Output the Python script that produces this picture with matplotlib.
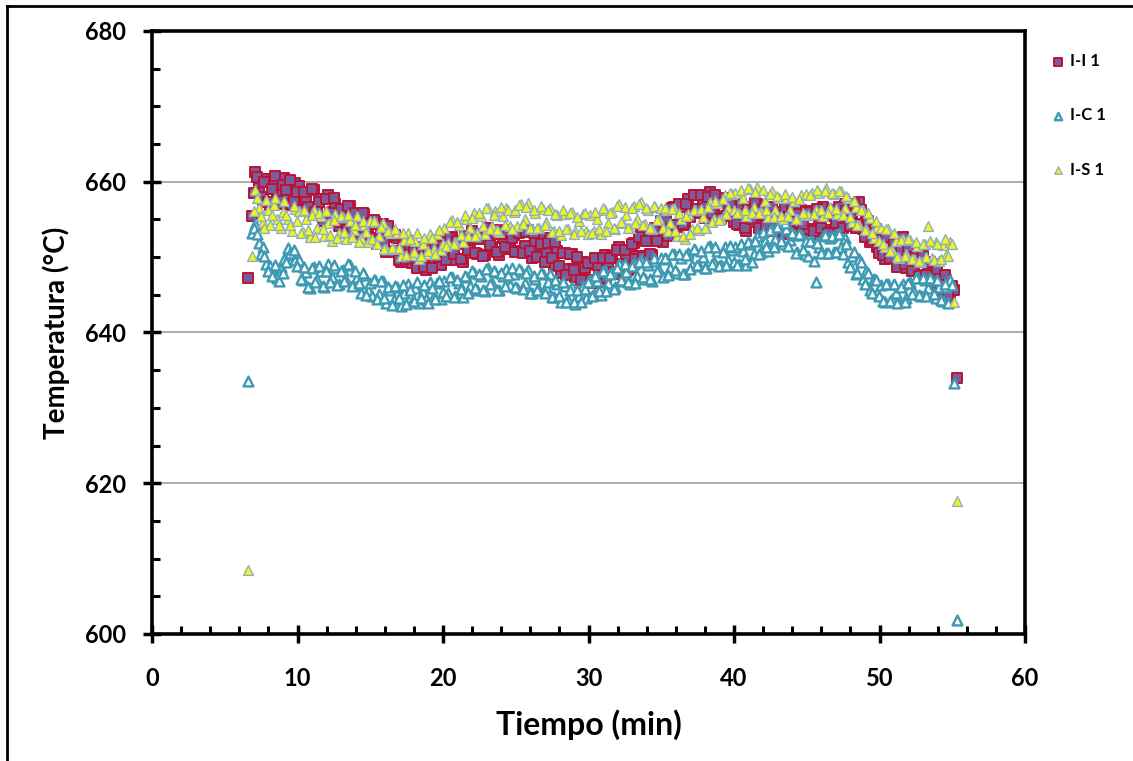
import numpy as np
import matplotlib
matplotlib.use("Agg")
import matplotlib.pyplot as plt
from matplotlib.ticker import MultipleLocator
from matplotlib.lines import Line2D

plt.rcParams['font.family'] = ['Lato', 'DejaVu Sans']

# main readings: first at 6.6 min, one every 0.25 min
t_start = 6.6
t_step = 0.25
# intermediate readings: first at 6.975 min, one every 0.25 min
t_mid_start = 6.975

ii_1 = [647.2, 655.5, 661.3, 659.2, 657.6, 660.3, 656.9, 660.4, 658.2, 657.1, 660.5, 658.4, 656.9, 659.8,
        659.4, 656.6, 657.9, 655.6, 658.9, 656.5, 657.7, 655.1, 658.3, 656.0, 657.1, 654.1, 656.2, 654.5, 656.8, 653.7, 655.0, 652.7, 655.7, 653.5,
        652.4, 654.7, 652.5, 654.4, 650.7, 652.7, 650.8, 652.6, 649.3, 651.2, 652.2, 649.2, 651.1, 648.5, 649.8, 648.3, 651.2, 649.2, 651.4, 649.0,
        652.0, 650.1, 652.7, 649.6, 651.7, 649.4, 652.4, 651.2, 653.1, 650.4, 652.6, 650.3, 653.9, 651.4, 653.2, 650.3, 652.6, 653.6, 651.1, 652.9,
        650.8, 653.4, 651.5, 653.6, 649.9, 652.0, 650.1, 652.5, 650.6, 652.5, 648.9, 650.8, 647.9, 650.6, 648.4, 650.4, 647.3, 648.5, 649.4, 646.9,
        649.2, 646.9, 648.9, 646.7, 650.3, 648.5, 650.2, 647.8, 651.4, 648.8, 650.2, 648.5, 651.9, 650.2, 652.9, 650.1, 652.5, 650.3, 653.8, 652.7,
        652.0, 655.1, 654.2, 656.7, 654.0, 656.6, 654.2, 657.7, 656.0, 658.3, 655.8, 657.2, 655.4, 658.7, 656.0, 657.6, 655.1, 657.8, 655.6, 657.0,
        657.2, 654.2, 656.0, 653.5, 656.6, 654.6, 657.1, 654.2, 655.5, 653.5, 656.5, 654.5, 656.0, 653.1, 656.6, 654.6, 655.6, 653.3, 656.2, 653.5,
        653.7, 656.1, 653.1, 655.1, 656.6, 653.6, 655.6, 653.3, 656.3, 654.8, 657.1, 654.2, 655.9, 653.8, 657.3, 653.7, 655.1, 652.0, 653.6, 651.4,
        652.6, 649.8, 652.5, 649.9, 650.7, 648.8, 652.7, 648.6, 650.7, 648.7, 650.7, 647.2, 649.3, 647.8, 649.1, 646.0, 647.6, 645.1, 646.9, 645.0,
        645.6, 634.0]

ii_1_mid = [658.5, 660.6, 658.0, 659.9, 657.3, 659.1, 660.7, 657.5, 659.6, 658.9, 660.2, 657.4, 658.6,
            656.3, 658.6, 656.7, 659.0, 656.0, 657.3, 654.8, 657.7, 655.9, 657.9, 654.6, 656.4, 654.9, 656.8, 653.4, 655.9, 654.5, 655.9, 653.1, 654.4,
            654.9, 651.7, 653.6, 651.9, 654.1, 650.7, 652.9, 649.6, 651.5, 649.7, 651.6, 650.7, 648.6, 651.4, 648.7, 650.6, 648.6, 651.7, 650.0, 651.5,
            649.6, 652.6, 650.4, 652.2, 649.7, 652.8, 651.0, 653.4, 650.5, 652.4, 650.2, 653.3, 651.6, 653.6, 650.7, 653.0, 651.3, 653.3, 652.5, 650.7,
            653.2, 650.5, 653.3, 650.8, 653.2, 650.0, 651.7, 649.4, 651.9, 649.9, 652.0, 648.8, 650.5, 647.6, 650.4, 648.3, 650.0, 646.9, 648.5, 649.2,
            646.6, 649.9, 647.6, 649.9, 647.2, 649.9, 648.0, 651.0, 649.1, 650.9, 648.3, 651.8, 649.8, 652.7, 650.0, 652.2, 650.4, 653.6, 652.1, 654.8,
            655.0, 652.8, 656.5, 654.3, 657.0, 654.4, 657.0, 655.3, 658.2, 656.4, 658.3, 655.2, 658.0, 655.8, 658.3, 655.1, 657.2, 655.5, 657.2, 654.7,
            654.4, 657.0, 653.8, 656.2, 655.0, 657.2, 653.9, 656.3, 654.3, 656.7, 653.5, 655.6, 653.9, 656.6, 654.2, 656.1, 653.0, 655.7, 654.4, 656.0,
            656.0, 653.4, 656.4, 653.8, 655.4, 653.2, 656.3, 654.5, 656.7, 653.8, 656.1, 654.1, 657.1, 654.4, 656.3, 652.7, 654.8, 652.3, 653.7, 650.6,
            650.3, 652.7, 649.9, 651.8, 648.7, 650.9, 649.1, 651.3, 648.1, 649.8, 647.5, 650.2, 647.6, 649.3, 646.1, 648.4, 646.3, 647.6, 644.9, 646.2]

ic_1 = [633.6, 653.2, 654.4, 651.9, 651.3, 649.1, 648.8, 647.6, 647.2, 648.7, 649.8, 651.2, 650.3, 649.6,
        649.6, 647.0, 648.0, 645.9, 648.7, 646.9, 648.1, 646.1, 649.1, 647.4, 648.6, 646.4, 648.3, 646.9, 648.9, 646.3, 647.3, 645.2, 647.6, 645.6,
        644.9, 646.9, 645.1, 646.8, 643.9, 645.7, 644.3, 646.0, 643.5, 645.3, 646.4, 644.1, 645.9, 643.9, 645.4, 644.5, 646.7, 644.9, 646.6, 644.4,
        646.8, 645.2, 647.4, 644.8, 646.6, 644.7, 647.3, 646.2, 647.9, 645.6, 647.5, 645.5, 648.6, 646.5, 648.0, 645.6, 647.5, 648.4, 646.3, 647.8,
        645.9, 648.1, 646.5, 648.3, 645.3, 647.1, 645.6, 647.7, 646.1, 647.7, 644.7, 646.4, 644.0, 646.2, 644.3, 646.0, 643.8, 644.9, 646.2, 644.6,
        646.9, 645.1, 646.8, 645.0, 648.1, 646.6, 648.0, 646.0, 649.1, 646.8, 648.0, 646.4, 649.1, 647.5, 649.6, 647.1, 648.9, 646.8, 649.5, 648.3,
        647.4, 649.7, 648.6, 650.4, 647.9, 649.9, 647.7, 650.5, 649.0, 650.9, 648.8, 650.0, 648.5, 651.5, 649.3, 650.8, 648.9, 651.4, 649.6, 651.0,
        651.4, 649.1, 650.8, 649.0, 651.8, 650.4, 652.8, 650.7, 652.2, 650.8, 653.7, 652.4, 654.5, 651.8, 653.7, 652.3, 652.9, 650.7, 652.9, 650.4,
        650.2, 652.1, 646.7, 651.4, 652.8, 650.6, 652.5, 650.7, 653.1, 651.3, 652.6, 649.4, 650.1, 647.7, 649.7, 647.1, 648.2, 645.6, 647.1, 645.3,
        646.3, 644.1, 646.4, 644.4, 645.3, 644.1, 646.4, 644.6, 646.7, 645.4, 647.4, 644.9, 647.0, 645.9, 647.0, 644.6, 646.1, 644.2, 646.1, 647.0,
        633.3, 601.9]

ic_1_mid = [653.8, 653.1, 650.4, 650.2, 648.2, 647.5, 648.9, 646.8, 647.9, 649.4, 650.6, 650.9, 648.8,
            647.1, 648.7, 646.1, 648.6, 646.7, 648.8, 646.2, 648.2, 646.7, 649.0, 646.3, 648.2, 646.8, 649.1, 646.2, 648.1, 646.5, 647.9, 645.0, 646.6,
            646.9, 644.4, 646.8, 644.6, 646.1, 643.6, 646.2, 644.6, 646.3, 643.8, 645.7, 644.2, 646.7, 644.6, 646.3, 643.9, 645.9, 644.5, 646.8, 645.4,
            644.9, 647.3, 644.7, 647.0, 645.8, 647.5, 645.3, 648.1, 645.9, 647.7, 645.6, 648.4, 646.4, 648.1, 645.6, 647.9, 646.2, 647.6, 648.5, 646.0,
            648.4, 645.8, 647.9, 645.3, 647.5, 645.7, 647.9, 645.3, 646.7, 644.7, 647.0, 644.9, 646.7, 644.1, 645.7, 644.1, 645.6, 644.0, 645.8, 646.7,
            644.8, 647.5, 645.5, 648.1, 645.5, 647.7, 645.8, 648.5, 647.0, 649.1, 646.7, 648.8, 646.5, 649.3, 647.4, 649.3, 647.1, 649.9, 648.1, 649.9,
            649.9, 647.6, 650.4, 648.3, 650.4, 647.8, 650.3, 648.4, 651.1, 649.0, 650.8, 648.5, 651.3, 649.1, 651.4, 648.8, 650.7, 649.0, 651.5, 649.4,
            648.9, 651.7, 649.7, 652.0, 649.4, 652.1, 650.4, 653.3, 651.4, 653.6, 651.3, 654.0, 652.1, 654.5, 651.5, 653.2, 650.6, 653.1, 650.9, 652.2,
            652.1, 649.5, 651.9, 650.5, 652.9, 650.6, 652.8, 650.7, 653.1, 650.4, 651.8, 648.7, 650.7, 647.9, 649.3, 646.4, 647.9, 645.3, 647.0, 644.9,
            644.2, 646.4, 644.2, 646.4, 643.9, 646.0, 644.0, 646.5, 645.1, 647.2, 645.0, 647.2, 644.9, 647.2, 645.1, 647.0, 644.3, 646.4, 643.9, 646.3]

is_1 = [608.5, 650.2, 658.9, 656.5, 654.6, 657.6, 654.2, 656.9, 655.1, 653.9, 657.4, 655.0, 653.5, 656.4,
        656.1, 653.3, 655.1, 652.7, 656.3, 653.8, 655.4, 652.8, 654.5, 652.2, 655.7, 653.2, 655.3, 652.4, 654.8, 653.6, 655.5, 652.6, 654.2, 652.0,
        652.4, 654.6, 652.8, 654.5, 651.1, 653.2, 651.1, 653.2, 650.2, 652.3, 653.2, 650.3, 652.2, 649.8, 651.7, 650.4, 653.0, 651.1, 653.1, 650.9,
        653.8, 651.9, 654.9, 652.0, 654.2, 652.0, 655.1, 653.8, 655.9, 653.2, 655.4, 653.1, 656.5, 654.1, 656.1, 653.3, 655.5, 656.5, 654.1, 656.0,
        654.1, 657.0, 655.0, 657.2, 653.7, 655.9, 653.9, 656.4, 654.6, 656.5, 653.4, 655.6, 652.9, 655.7, 653.7, 656.0, 653.4, 654.8, 655.7, 653.5,
        655.6, 653.4, 655.1, 653.1, 656.3, 654.5, 656.0, 653.7, 657.0, 654.5, 655.6, 653.9, 656.8, 655.0, 657.3, 654.4, 656.2, 653.7, 656.6, 655.1,
        653.9, 656.2, 654.5, 656.5, 652.8, 655.0, 652.4, 655.7, 653.7, 656.2, 653.6, 655.3, 653.8, 657.3, 655.0, 657.2, 655.1, 658.3, 656.5, 658.4,
        658.5, 655.9, 657.9, 655.5, 659.0, 656.6, 659.3, 656.0, 657.5, 655.3, 658.8, 656.3, 657.8, 655.0, 657.9, 656.2, 657.4, 655.0, 658.3, 655.6,
        655.6, 658.5, 656.3, 658.5, 655.4, 659.2, 656.7, 658.4, 655.7, 658.8, 656.5, 657.8, 654.6, 656.6, 654.3, 656.3, 653.7, 655.2, 652.5, 654.0,
        653.9, 651.4, 653.7, 651.0, 652.1, 649.9, 652.4, 650.4, 652.3, 649.7, 651.5, 649.3, 651.8, 654.1, 649.9, 652.0, 649.5, 651.6, 650.3, 652.0,
        644.1, 617.7]

is_1_mid = [656.1, 657.8, 655.5, 653.9, 656.3, 655.6, 657.9, 654.3, 656.0, 655.6, 654.2, 656.8, 654.8,
            653.2, 656.3, 653.6, 655.6, 652.7, 655.8, 653.7, 656.1, 652.9, 654.9, 652.5, 655.4, 653.3, 655.6, 652.7, 654.3, 652.0, 654.8, 653.3, 654.8,
            654.8, 651.8, 654.0, 651.1, 653.4, 651.2, 653.7, 651.2, 653.2, 650.3, 652.4, 650.7, 653.2, 650.2, 652.5, 650.8, 652.5, 650.4, 653.6, 651.7,
            651.5, 654.6, 651.8, 654.6, 652.9, 655.6, 652.8, 655.2, 652.8, 655.9, 654.1, 656.5, 653.7, 655.6, 653.6, 656.6, 654.2, 656.3, 653.7, 656.3,
            656.9, 654.4, 656.6, 653.8, 656.2, 653.8, 656.8, 654.3, 656.2, 653.3, 655.7, 653.5, 656.2, 653.7, 655.8, 653.1, 655.3, 653.4, 655.9, 653.1,
            653.2, 656.0, 653.7, 656.5, 653.4, 655.8, 653.9, 656.8, 654.6, 656.6, 653.9, 656.5, 654.5, 657.1, 654.2, 656.5, 653.9, 656.8, 654.9, 656.5,
            656.5, 653.5, 656.4, 653.4, 655.9, 652.8, 655.4, 653.1, 656.2, 653.9, 656.4, 653.8, 656.7, 654.7, 657.4, 654.9, 657.7, 655.7, 658.5, 656.2,
            655.9, 658.9, 656.2, 659.2, 655.9, 658.6, 655.9, 658.9, 656.2, 658.4, 655.3, 658.1, 655.5, 658.4, 655.5, 658.0, 655.1, 657.7, 655.9, 658.4,
            658.3, 655.7, 658.9, 656.2, 658.8, 655.8, 658.5, 656.4, 658.8, 655.6, 658.1, 655.3, 657.5, 654.3, 656.3, 653.6, 655.8, 653.2, 654.8, 652.1,
            651.8, 653.7, 650.8, 653.2, 650.0, 652.3, 650.2, 652.4, 649.8, 652.0, 649.5, 651.8, 650.0, 652.2, 649.6, 651.7, 649.8, 652.4, 650.1, 651.7]

series_labels = ['I-I 1', 'I-C 1', 'I-S 1']
x_ticks = [0, 10, 20, 30, 40, 50, 60]
y_ticks = [600, 620, 640, 660, 680]


def readings(main, mid):
    t_main = t_start + t_step * np.arange(len(main))
    t_mid = t_mid_start + t_step * np.arange(len(mid))
    return np.concatenate([t_main, t_mid]), np.concatenate([main, mid])


fig = plt.figure(figsize=(11.33, 7.61), dpi=100)
ax = fig.add_axes([0.1342, 0.1669, 0.7705, 0.7924])

x, y = readings(ii_1, ii_1_mid)
ax.scatter(x, y, marker='s', s=46, facecolor='#7B5C98', edgecolor='#BC1236',
           linewidths=1.4, label=series_labels[0], zorder=3)
x, y = readings(ic_1, ic_1_mid)
ax.scatter(x, y, marker='^', s=50, facecolor='white', edgecolor='#3C9AB2',
           linewidths=1.7, label=series_labels[1], zorder=4)
x, y = readings(is_1, is_1_mid)
ax.scatter(x, y, marker='^', s=50, facecolor='#F0F51A', edgecolor='#8EAFC0',
           linewidths=1.0, label=series_labels[2], zorder=5)

ax.set_xlim(0, 60)
ax.set_ylim(600, 680)
ax.set_xticks(x_ticks)
ax.set_yticks(y_ticks)
ax.xaxis.set_minor_locator(MultipleLocator(2))
ax.yaxis.set_minor_locator(MultipleLocator(5))
ax.tick_params(which='major', direction='inout', length=13, width=2.5, labelsize=17)
ax.tick_params(axis='x', which='major', pad=17)
ax.tick_params(axis='y', which='major', pad=12)
ax.tick_params(which='minor', direction='in', length=6, width=2.2)
for lab in ax.get_xticklabels() + ax.get_yticklabels():
    lab.set_fontweight('bold')

for sp in ax.spines.values():
    sp.set_linewidth(2.6)
    sp.set_color('black')

for yv in y_ticks[1:-1]:
    ax.axhline(yv, color='#A6A6A6', lw=1.3, zorder=1)

ax.set_xlabel('Tiempo (min)', fontsize=23, fontweight='bold', labelpad=14)
ax.set_ylabel('Temperatura (°C)', fontsize=20, fontweight='bold', labelpad=11)

leg = fig.legend(loc='upper left', bbox_to_anchor=(0.919, 0.939), frameon=False,
                 fontsize=12, labelspacing=2.3, handletextpad=0.1, handlelength=1.2,
                 markerscale=0.75, borderaxespad=0)
for t in leg.get_texts():
    t.set_fontweight('bold')

# outer frame of the chart area
fig.add_artist(Line2D([0.0062, 0.0062], [0.0, 0.992], transform=fig.transFigure, color='black', lw=2))
fig.add_artist(Line2D([0.0062, 1.0], [0.992, 0.992], transform=fig.transFigure, color='black', lw=2))

fig.savefig('out.png', dpi=100)
